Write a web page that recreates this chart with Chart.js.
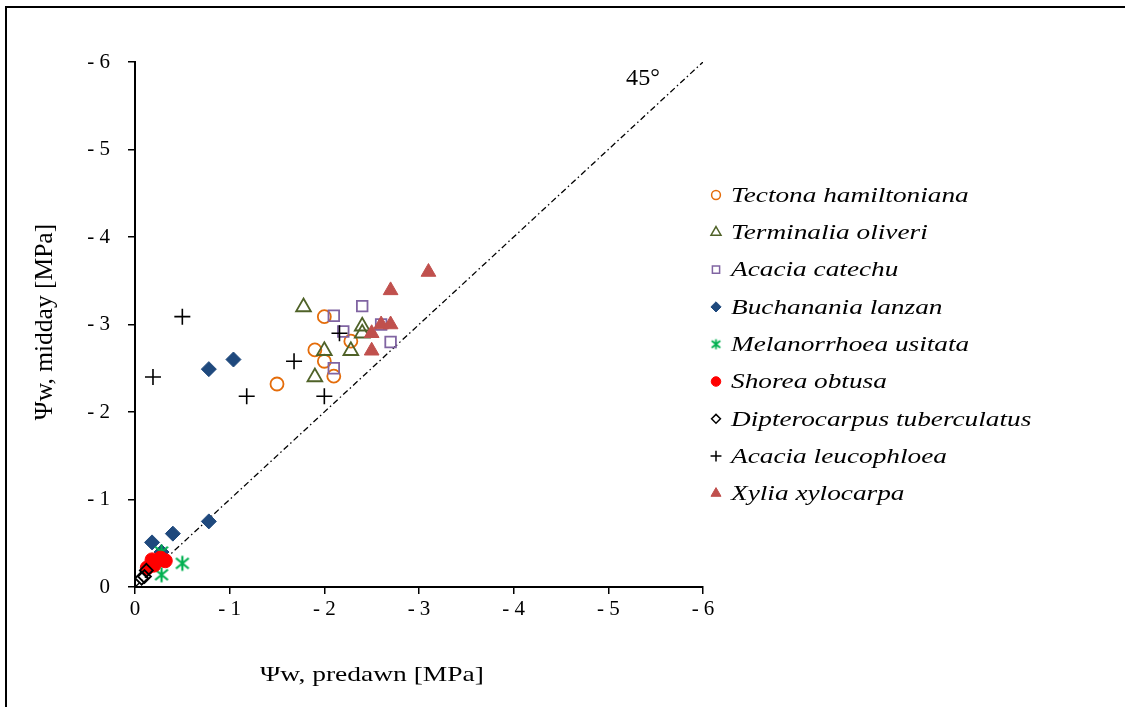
<!DOCTYPE html>
<html>
<head>
<meta charset="utf-8">
<script src="https://cdn.jsdelivr.net/npm/chart.js@4"></script>
<style>
  body { margin: 0; background: #fff; }
  #wrap { position: relative; width: 1125px; height: 707px; overflow: hidden; }
  #frame { position: absolute; left: 5px; top: 6px; width: 1130px; height: 710px; border: 2px solid #000; }
  canvas { position: absolute; left: 0; top: 0; }
</style>
</head>
<body>
<div id="wrap">
  <div id="frame"></div>
  <canvas id="chart" width="1125" height="707"></canvas>
</div>
<script>
// Species names (legend order)
const species = [
  'Tectona hamiltoniana', 'Terminalia oliveri', 'Acacia catechu',
  'Buchanania lanzan', 'Melanorrhoea usitata', 'Shorea obtusa',
  'Dipterocarpus tuberculatus', 'Acacia leucophloea', 'Xylia xylocarpa'
];

// [predawn, midday] water potential in MPa
const tectona = [[-1.5, -2.32], [-2.0, -3.09], [-1.9, -2.71], [-2.0, -2.58], [-2.1, -2.41], [-2.28, -2.81]];
const terminalia = [[-1.78, -3.2], [-2.4, -2.98], [-2.4, -2.9], [-2.0, -2.7], [-2.28, -2.7], [-1.9, -2.4]];
const catechu = [[-2.1, -3.1], [-2.4, -3.21], [-2.2, -2.92], [-2.1, -2.5], [-2.6, -3.0], [-2.7, -2.8]];
const buchanania = [[-0.18, -0.51], [-0.4, -0.61], [-0.78, -0.75], [-0.28, -0.4], [-0.78, -2.49], [-1.04, -2.6]];
const melanorrhoea = [[-0.28, -0.4], [-0.5, -0.27], [-0.28, -0.14]];
const shorea = [[-0.18, -0.31], [-0.27, -0.33], [-0.32, -0.3], [-0.2, -0.25], [-0.13, -0.22]];
const dipterocarpus = [[-0.12, -0.19], [-0.1, -0.12], [-0.07, -0.1]];
const leucophloea = [[-0.5, -3.09], [-0.19, -2.4], [-1.18, -2.18], [-1.68, -2.58], [-2.0, -2.18], [-2.16, -2.9]];
const xylia = [[-2.7, -3.39], [-3.1, -3.6], [-2.6, -3.0], [-2.7, -3.0], [-2.5, -2.9], [-2.5, -2.7]];

// 1:1 line and axis range
const oneToOne = [[0, 0], [-6, -6]];
const axisMin = -6;
const axisMax = 0;

const serif = '"Liberation Serif", "Times New Roman", serif';

// asterisk marker (vertical line + X) like the Excel one
function asterisk(color, size, lw) {
  const c = document.createElement('canvas');
  c.width = size; c.height = size;
  const g = c.getContext('2d');
  const m = size / 2, r = size / 2 - 1.5;
  g.strokeStyle = color;
  g.lineWidth = lw;
  g.beginPath();
  g.moveTo(m, m - r); g.lineTo(m, m + r);
  g.moveTo(m - r * 0.85, m - r * 0.7); g.lineTo(m + r * 0.85, m + r * 0.7);
  g.moveTo(m + r * 0.85, m - r * 0.7); g.lineTo(m - r * 0.85, m + r * 0.7);
  g.stroke();
  return c;
}

const toPts = arr => arr.map(p => ({ x: p[0], y: p[1] }));

const styles = [
  { pointStyle: 'circle', radius: 6.5, fill: 'transparent', stroke: '#E46C0A', width: 1.8 },
  { pointStyle: 'triangle', radius: 8.5, fill: 'transparent', stroke: '#4F6228', width: 1.8 },
  { pointStyle: 'rect', radius: 7.5, fill: 'transparent', stroke: '#8064A2', width: 1.8 },
  { pointStyle: 'rectRot', radius: 7.5, fill: '#1F497D', stroke: '#1F497D', width: 1 },
  { pointStyle: asterisk('#00B050', 18, 2.2), radius: 9, fill: '#00B050', stroke: '#00B050', width: 1 },
  { pointStyle: 'circle', radius: 7, fill: '#FF0000', stroke: '#FF0000', width: 1 },
  { pointStyle: 'rectRot', radius: 6.5, fill: 'transparent', stroke: '#000000', width: 1.8 },
  { pointStyle: 'cross', radius: 8, fill: '#000000', stroke: '#000000', width: 1.6 },
  { pointStyle: 'triangle', radius: 8.5, fill: '#C0504D', stroke: '#C0504D', width: 1 }
];
const seriesData = [tectona, terminalia, catechu, buchanania, melanorrhoea, shorea, dipterocarpus, leucophloea, xylia];

const datasets = species.map((name, i) => ({
  label: name,
  data: toPts(seriesData[i]),
  pointStyle: styles[i].pointStyle,
  pointRadius: styles[i].radius,
  backgroundColor: styles[i].fill,
  borderColor: styles[i].stroke,
  borderWidth: styles[i].width,
  showLine: false,
  clip: false,
  order: species.length - i
}));

datasets.push({
  label: '45°',
  data: toPts(oneToOne),
  showLine: true,
  pointRadius: 0,
  borderColor: '#000',
  borderWidth: 1.3,
  borderDash: [6, 3, 1.5, 3],
  order: 100
});

const fmt = v => (v === 0 ? '0' : '- ' + Math.abs(v));

// text drawn wider than normal, as in the source picture
function wideText(ctx, text, x, y, sx) {
  ctx.save();
  ctx.translate(x, y);
  ctx.scale(sx, 1);
  ctx.fillText(text, 0, 0);
  ctx.restore();
}

// legend, axis titles and the 45° label
const annotations = {
  id: 'annotations',
  afterDraw(chart) {
    const ctx = chart.ctx;
    ctx.save();
    ctx.fillStyle = '#000';
    ctx.textBaseline = 'middle';
    ctx.textAlign = 'center';
    ctx.font = '22px ' + serif;
    wideText(ctx, 'Ψw, predawn [MPa]', 372, 675, 1.25);
    ctx.font = '23px ' + serif;
    wideText(ctx, '45°', 643, 79, 1.05);
    ctx.save();
    ctx.font = '25.5px ' + serif;
    ctx.translate(45, 322);
    ctx.rotate(-Math.PI / 2);
    ctx.fillText('Ψw, midday [MPa]', 0, 0);
    ctx.restore();

    ctx.font = 'italic 22px ' + serif;
    ctx.textAlign = 'left';
    species.forEach((name, i) => {
      const y = 195 + i * 37.3;
      const s = styles[i];
      ctx.fillStyle = s.fill;
      ctx.strokeStyle = s.stroke;
      ctx.lineWidth = Math.min(s.width, 1.5);
      const r = typeof s.pointStyle === 'string' ? s.radius * 0.68 : s.radius;
      const style = typeof s.pointStyle === 'string' ? s.pointStyle : asterisk(s.stroke, 13, 1.8);
      Chart.helpers.drawPoint(ctx, { pointStyle: style, radius: r, borderWidth: ctx.lineWidth }, 716, y);
      ctx.fillStyle = '#000';
      wideText(ctx, name, 731, y + 1, 1.24);
    });
    ctx.restore();
  }
};

new Chart(document.getElementById('chart'), {
  type: 'scatter',
  data: { datasets },
  options: {
    responsive: false,
    devicePixelRatio: 1,
    animation: false,
    layout: { padding: { top: 62, right: 422, bottom: 0, left: 0 } },
    plugins: { legend: { display: false }, tooltip: { enabled: false } },
    scales: {
      x: {
        type: 'linear',
        min: axisMin, max: axisMax, reverse: true,
        afterFit(scale) { scale.height = 120; },
        border: { color: '#000', width: 2 },
        grid: { drawOnChartArea: false, drawTicks: true, tickLength: 7, color: '#000', lineWidth: 1.5 },
        ticks: { stepSize: 1, padding: 3, color: '#000', font: { family: serif, size: 21 }, callback: fmt }
      },
      y: {
        type: 'linear',
        min: axisMin, max: axisMax, reverse: true,
        afterFit(scale) { scale.width = 135; },
        border: { color: '#000', width: 2 },
        grid: { drawOnChartArea: false, drawTicks: true, tickLength: 7, color: '#000', lineWidth: 1.5 },
        ticks: { stepSize: 1, padding: 18, color: '#000', font: { family: serif, size: 21 }, callback: fmt }
      }
    }
  },
  plugins: [annotations]
});
</script>
</body>
</html>
